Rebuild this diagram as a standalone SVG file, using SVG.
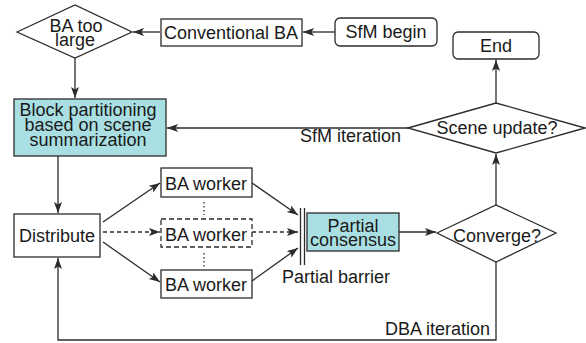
<svg xmlns="http://www.w3.org/2000/svg" width="586" height="343" viewBox="0 0 586 343">
  <style>
    .box { fill: #fff; stroke: #2b2b2b; stroke-width: 1.3; }
    .hl { fill: #a9dfe2; stroke: #2b2b2b; stroke-width: 1.3; }
    .dash { fill: #fff; stroke: #2b2b2b; stroke-width: 1.3; stroke-dasharray: 5 3; }
    .ln { fill: none; stroke: #2b2b2b; stroke-width: 1.3; }
    .dl { fill: none; stroke: #2b2b2b; stroke-width: 1.3; stroke-dasharray: 4 3; }
    .dots { fill: none; stroke: #2b2b2b; stroke-width: 1.3; stroke-dasharray: 1.5 2.5; }
    text { font-family: "Liberation Sans", Arial, sans-serif; font-size: 18px; fill: #1a1a1a; text-anchor: middle; }
    .l { text-anchor: start; }
    .r { text-anchor: end; }
  </style>
  <defs>
    <marker id="ah" markerWidth="12" markerHeight="10" refX="11" refY="4" orient="auto" markerUnits="userSpaceOnUse">
      <path d="M0,0 L11,4 L0,8 L2.5,4 Z" fill="#2b2b2b"/>
    </marker>
  </defs>

  <g id="connectors">
    <line class="ln" x1="335" y1="32" x2="303" y2="32" marker-end="url(#ah)"/>
    <line class="ln" x1="160" y1="32" x2="133" y2="32" marker-end="url(#ah)"/>
    <line class="ln" x1="75" y1="58" x2="75" y2="98" marker-end="url(#ah)"/>
    <line class="ln" x1="58" y1="156" x2="58" y2="213" marker-end="url(#ah)"/>
    <line class="ln" x1="408" y1="128" x2="167" y2="128" marker-end="url(#ah)"/>
    <line class="ln" x1="496" y1="103" x2="496" y2="60" marker-end="url(#ah)"/>
    <line class="ln" x1="496" y1="205" x2="496" y2="154" marker-end="url(#ah)"/>
    <!-- fan-out to workers -->
    <line class="ln" x1="103" y1="222" x2="160" y2="183" marker-end="url(#ah)"/>
    <line class="dl" x1="103" y1="232" x2="160" y2="232" marker-end="url(#ah)"/>
    <line class="ln" x1="103" y1="242" x2="160" y2="282" marker-end="url(#ah)"/>
    <!-- workers to barrier -->
    <line class="ln" x1="252" y1="183" x2="298" y2="215" marker-end="url(#ah)"/>
    <line class="dl" x1="252" y1="232" x2="298" y2="232" marker-end="url(#ah)"/>
    <line class="ln" x1="252" y1="281" x2="298" y2="248" marker-end="url(#ah)"/>
    <line class="dots" x1="204" y1="202" x2="204" y2="215"/>
    <line class="dots" x1="204" y1="253" x2="204" y2="267"/>
    <!-- barrier -->
    <line class="ln" x1="300.5" y1="208" x2="300.5" y2="265"/>
    <line class="ln" x1="304.5" y1="208" x2="304.5" y2="265"/>
    <line class="ln" x1="399" y1="232" x2="436" y2="232" marker-end="url(#ah)"/>
    <polyline class="ln" points="496,262 496,340 58,340 58,258" marker-end="url(#ah)"/>
    <text x="300" y="142" class="l">SfM iteration</text>
    <text x="282" y="283" class="l">Partial barrier</text>
    <text x="490" y="335" class="r">DBA iteration</text>
  </g>

  <g id="sfm-begin">
    <rect class="box" x="335" y="18" width="102" height="28" rx="5"/>
    <text x="386" y="38">SfM begin</text>
  </g>
  <g id="conventional-ba">
    <rect class="box" x="161" y="19" width="141" height="27"/>
    <text x="231" y="39">Conventional BA</text>
  </g>
  <g id="ba-too-large">
    <polygon class="box" points="17,32 75,5 132,32 75,58"/>
    <text x="76" y="32">BA too</text>
    <text x="75" y="46">large</text>
  </g>
  <g id="block-partitioning">
    <rect class="hl" x="14" y="99" width="152" height="57"/>
    <text x="88" y="116">Block partitioning</text>
    <text x="88" y="131">based on scene</text>
    <text x="88" y="146">summarization</text>
  </g>
  <g id="distribute">
    <rect class="box" x="14" y="214" width="86" height="43"/>
    <text x="57" y="242">Distribute</text>
  </g>
  <g id="worker-1">
    <rect class="box" x="161" y="168" width="91" height="29"/>
    <text x="206" y="190">BA worker</text>
  </g>
  <g id="worker-2">
    <rect class="dash" x="161" y="219" width="91" height="28"/>
    <text x="206" y="241">BA worker</text>
  </g>
  <g id="worker-3">
    <rect class="box" x="161" y="270" width="91" height="28"/>
    <text x="206" y="291">BA worker</text>
  </g>
  <g id="partial-consensus">
    <rect class="hl" x="307" y="213" width="92" height="38"/>
    <text x="353" y="232">Partial</text>
    <text x="353" y="246">consensus</text>
  </g>
  <g id="converge">
    <polygon class="box" points="437,233 496,205 556,233 496,262"/>
    <text x="497" y="242">Converge?</text>
  </g>
  <g id="scene-update">
    <polygon class="box" points="408,128 496,103 585,128 496,153"/>
    <text x="497" y="134">Scene update?</text>
  </g>
  <g id="end">
    <rect class="box" x="453" y="32" width="86" height="27" rx="5"/>
    <text x="496" y="52">End</text>
  </g>
</svg>
